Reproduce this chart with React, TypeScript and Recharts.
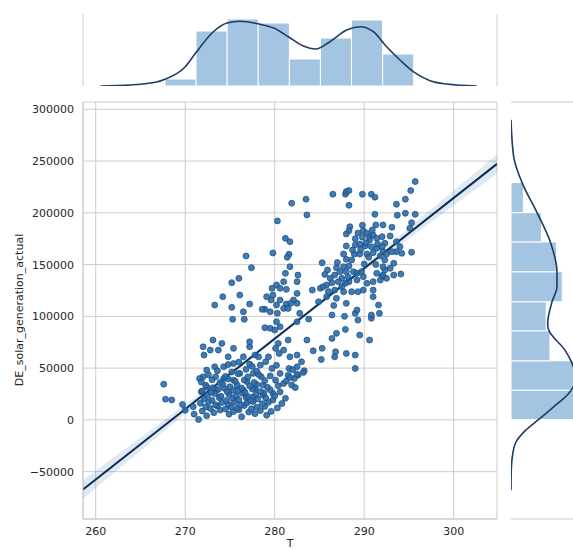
import React from 'react';
import { ComposedChart, Scatter, Line, Area, XAxis, YAxis, CartesianGrid, ReferenceArea } from 'recharts';

const xTicks = [260, 270, 280, 290, 300];
const yTicks = [-50000, 0, 50000, 100000, 150000, 200000, 250000, 300000];
const xDomain: [number, number] = [258.58, 304.84];
const yDomain: [number, number] = [-95740, 307060];

// scatter: [T, DE_solar_generation_actual]
const points: [number, number][] = [
  [295.7,230200],[295.2,221500],[294.6,213200],[293.6,208300],[286.5,218000],[287.9,218000],[288.0,220500],[288.3,221500],[289.8,218000],[290.8,218000],[291.2,215100],[288.3,207300],[281.9,209300],[283.5,213200],[283.6,198000],[280.3,192200],[291.2,198600],[293.7,197700],[294.6,199600],[295.7,198600],[295.3,190500],[295.1,185100],[293.1,186100],[292.1,188300],[291.3,188300],[289.8,188000],[288.4,186600],[288.3,182800],[288.0,179600],[289.9,182800],[290.3,180300],[290.6,177000],[291.0,178600],[291.4,175400],[292.0,177000],[292.9,177700],[292.3,170600],[292.0,167300],[291.4,165800],[290.8,167300],[290.1,168000],[289.5,169900],[289.0,169000],[288.0,168000],[290.6,173800],[293.6,172100],[294.0,167300],[293.6,162500],[293.1,162500],[294.2,160900],[295.3,161900],[292.1,162500],[292.5,160200],[291.0,161500],[290.3,160200],[289.5,160200],[288.9,160200],[287.7,160200],[288.0,155100],[288.6,154500],[288.3,148600],[287.7,148000],[292.3,154500],[293.3,151300],[292.9,146400],[292.3,144800],[292.1,148000],[291.4,141600],[292.0,138300],[292.5,136700],[293.3,139900],[294.1,140900],[291.0,133500],[291.8,135100],[292.1,139900],
  [276.8,158300],[279.8,161200],[281.2,175400],[281.7,172100],[281.6,160000],[281.4,157100],[281.7,148000],[277.4,147000],[285.3,151800],[285.9,144800],[286.9,147000],[286.7,139900],[287.3,143100],[287.5,136700],[287.1,133500],[286.2,136700],[286.4,132500],[285.8,130300],[285.1,127100],[288.0,143100],[288.8,143100],[289.2,141600],[289.7,143100],[289.9,138300],[289.2,135100],[288.3,133500],[287.9,131900],[287.5,128600],[286.7,125400],[286.9,117400],[288.0,112600],[287.7,123800],[288.6,123800],[289.3,123800],[289.9,125400],[290.3,131900],[291.0,125400],[291.0,119000],[291.6,110900],[291.7,102900],[290.8,98100],[290.8,101300],[289.3,96400],[289.0,102900],[289.2,106100],[286.4,101300],[289.5,81900],[290.6,77100],[287.9,87400],[286.9,83600],[286.4,78700],[286.8,65800],[288.0,64200],[289.0,62600],[289.0,49700],[286.7,60900],[285.3,69100],[284.3,66700],[285.2,58400],[283.6,77100],[283.8,97400],[282.5,94800],[282.8,102900],[282.5,112600],[282.1,115800],[282.5,122200],[282.5,133500],[282.6,139900],[281.2,141600],[281.0,133500],[280.2,130300],[279.7,127100],[280.6,127100],[281.3,126100],[279.8,120600],[279.6,115800],[280.6,115800],[280.2,110900],[281.3,111900],[281.0,107700],[278.9,106800],[279.5,104400],[280.3,102900],[281.5,107700],[281.8,112600],[284.9,114100],[284.2,125400],[285.4,128600],[285.8,119000],[279.1,119000],[278.6,106800],[276.5,104400],[277.2,111900],[276.1,120600],[275.2,132500],[276.0,136700],[274.2,119000],[273.3,110900],[275.2,108700],[275.3,97100],[276.6,97100],[278.9,89000],[279.5,88400],[280.2,94800],[280.6,89900],[280.0,86800],[281.5,77100],[280.4,73900],[280.1,69100],[281.0,67400],[280.5,64200],[279.3,60900],[281.7,60900],[282.5,62600],[283.0,56100],[282.5,51300],[281.6,49700],[281.5,43200],[282.6,43200],[281.9,33600],[280.6,44900],[279.7,49700],[280.1,38400],[281.0,35200],[279.8,25500],[278.7,33600],[278.5,41600],[277.6,44900],[277.2,53900],[277.2,70600],[277.2,75400],[277.8,62600],[278.2,60900],[278.4,52900],[276.5,60900],[275.4,69100],[274.1,73900],[273.1,77100],[273.7,67400],[272.8,67400],[272.0,70600],[272.1,62600],[274.8,60900],[275.4,54500],[274.3,51300],[273.3,51300],[272.4,48100],[273.4,41600],[274.3,40000],[275.4,38400],[276.1,44900],[276.9,36800],[276.5,28700],[275.4,28700],[274.4,30400],[273.5,28700],[272.4,31900],[272.0,41600],[277.8,30400],[277.6,22200],[278.7,23900],
  [267.6,34500],[267.8,20000],[268.5,19300],[269.7,14900],[270.0,9400],[270.9,12600],[271.5,400],[271.6,40000],[271.8,27100],[271.0,5500],
  [282.2,40000],[283.3,47500],
  [289.0,175000],[289.6,164500],[290.2,171000],[290.9,183500],[291.5,170000],[289.3,180500],[290.5,157000],[291.8,158500],[288.7,164000],[290.0,150500],[291.3,150000],[289.8,176500],
  [286.0,124000],[287.0,152000],[285.6,140500],[288.2,138000],[286.6,110500],[287.8,100000],
  [272.4,4000],[274.9,5500],[276.3,3000],[277.8,6000],[279.1,4500],
  [271.9,8500],[273.2,7000],[273.9,9500],[275.4,8000],[276.0,9800],[277.1,7500],[278.4,9000],[279.6,8200],
  [272.3,12500],[272.8,11000],[273.6,13500],[274.5,10500],[275.1,12800],[275.8,11200],[276.6,13800],[277.4,10800],[278.0,12200],[278.9,13000],[280.3,11500],
  [271.7,16000],[272.6,17500],[273.4,14500],[274.1,16800],[274.8,15200],[275.5,17200],[276.2,14800],[276.9,16500],[277.6,17800],[278.6,15500],[279.3,17000],[280.8,15800],
  [272.1,20500],[273.0,19000],[273.8,21500],[274.6,18800],[275.3,21000],[276.0,19500],[276.8,21800],[277.3,18500],[278.1,20200],[279.0,21200],[279.8,19200],[281.2,20800],
  [272.5,24000],[273.3,25500],[274.0,22800],[274.9,24800],[275.7,23200],[276.4,25800],[277.0,22500],[277.9,24500],[278.8,26000],[280.0,23000],
  [271.9,28000],[272.9,26800],[273.7,29500],[274.7,27200],[275.9,28500],[276.7,26500],[277.5,29800],[278.4,27500],[279.5,29000],[280.6,27000],
  [272.3,33500],[273.1,31000],[274.2,34500],[275.0,32000],[275.8,33800],[276.3,30800],[277.2,32800],[278.0,34200],[279.2,31500],[280.4,33000],[282.3,31200],
  [271.8,36500],[273.0,38800],[273.9,36000],[274.8,39500],[275.6,37200],[276.6,38500],[277.7,36200],[278.9,38000],[281.3,37500],
  [272.6,43500],[274.5,42000],[275.9,44500],[277.0,41500],[278.2,43800],[279.5,42500],[281.7,41000],[282.5,44200],
  [273.6,47500],[275.2,46200],[276.8,48800],[278.0,47000],[283.2,45800],[282.0,48500],
  [274.8,53500],[276.0,55800],[277.5,51500],[279.0,56200],[280.2,52800],
];

// regression line end points and confidence band
const regLineT = [258.58, 304.84];
const regLineV = [-67300, 247300];
const bandT = [258.58, 262, 266, 270, 274, 278, 282, 286, 290, 294, 298, 302, 304.84];
const bandLo = [-76300, -51640, -22840, 5860, 34460, 62760, 90360, 116960, 142960, 168660, 194360, 219960, 238100];
const bandHi = [-58300, -36440, -10840, 14860, 40660, 66760, 93560, 121360, 149760, 178460, 207160, 235960, 256500];

// top marginal (T)
const tempBinEdges = [267.74, 271.21, 274.69, 278.16, 281.64, 285.11, 288.58, 292.06, 295.53];
const tempBinCounts = [7, 55, 67, 63, 27, 48, 66, 32];
const tempKdeT = [260.56, 263.83, 266.82, 267.74, 269.98, 271.17, 273.11, 274.67, 276.12, 278.25, 279.96, 281.52, 283.2, 284.58, 286.18, 288.04, 289.64, 291.02, 292.51, 294.0, 295.48, 297.35, 299.22, 302.57];
const tempKdeD = [0, 1, 4, 6.7, 19, 33, 54, 63, 64.7, 62, 57.7, 49.3, 40, 37, 44.3, 56, 59.3, 54.3, 39.3, 26, 14.3, 5.3, 2, 0];

// right marginal (DE_solar_generation_actual)
const solarBinEdges = [400, 28700, 57100, 86100, 114100, 143100, 171900, 200200, 229200];
const solarBinCounts = [68, 72, 41, 37, 54, 48, 32, 13];
const solarKdeV = [-67990, -48400, -35800, -22800, -9960, 400, 12600, 25500, 40300, 54800, 67400, 86800, 93200, 114100, 128600, 143100, 171900, 200200, 229200, 254400, 289800];
const solarKdeD = [0, 0.3, 1.4, 4.5, 15.5, 29.2, 44.9, 60.7, 68.4, 64.2, 56.8, 39.7, 38.6, 43.2, 48.4, 48.4, 41.4, 27.4, 11.6, 2.8, 0];

const GRID = '#cccccc';
const HIST = '#1a6db3';
const KDE = '#1b3c66';
const FONT = 'DejaVu Sans';
const tickStyle = { fontFamily: FONT, fontSize: 11, fill: '#262626' };

const scatterData = points.map(([T, v]) => ({ T, v }));
const regData = regLineT.map((T, i) => ({ T, v: regLineV[i] }));
const bandData = bandT.map((T, i) => ({ T, range: [bandLo[i], bandHi[i]] }));
const tempKdeData = tempKdeT.map((T, i) => ({ T, d: tempKdeD[i] }));
const solarKdeData = solarKdeV.map((v, i) => ({ v, d: solarKdeD[i] }));

const fmtY = (v: number) => (v < 0 ? '\u2212' + Math.abs(v) : String(v));

const Dot = (props: any) => (
  <circle cx={props.cx} cy={props.cy} r={3} fill="#2b6dab" fillOpacity={0.9} stroke="#1a4a7c" strokeWidth={0.7} />
);

export default function App() {
  return (
    <div style={{ position: 'absolute', left: 0, top: 0, width: 573, height: 550, overflow: 'hidden', background: '#ffffff' }}>
      {/* main joint plot */}
      <div style={{ position: 'absolute', left: 0, top: 0 }}>
        <ComposedChart width={573} height={550} margin={{ top: 102, right: 76, bottom: 0, left: 0 }}>
          <CartesianGrid stroke={GRID} strokeWidth={1} />
          <XAxis
            type="number"
            dataKey="T"
            domain={xDomain}
            ticks={xTicks}
            allowDataOverflow
            tickLine={false}
            tickSize={0}
            tickMargin={8}
            height={31}
            axisLine={{ stroke: GRID }}
            tick={tickStyle}
          />
          <YAxis
            type="number"
            dataKey="v"
            domain={yDomain}
            ticks={yTicks}
            allowDataOverflow
            tickLine={false}
            tickSize={0}
            tickMargin={9}
            width={83}
            axisLine={{ stroke: GRID }}
            tick={tickStyle}
            tickFormatter={fmtY}
          />
          <Area data={bandData} dataKey="range" type="monotone" fill="#2b6dab" fillOpacity={0.15} stroke="none" isAnimationActive={false} />
          <Scatter data={scatterData} dataKey="v" shape={Dot} isAnimationActive={false} />
          <Line data={regData} dataKey="v" type="linear" stroke="#0c2b55" strokeWidth={2} dot={false} isAnimationActive={false} />
        </ComposedChart>
      </div>

      {/* top marginal */}
      <div style={{ position: 'absolute', left: 0, top: 0 }}>
        <ComposedChart width={573} height={86} margin={{ top: 14, right: 76, bottom: 0, left: 83 }}>
          <CartesianGrid stroke={GRID} horizontal={false} />
          <XAxis
            type="number"
            dataKey="T"
            domain={xDomain}
            ticks={xTicks}
            allowDataOverflow
            tick={false}
            tickLine={false}
            height={0}
            axisLine={{ stroke: GRID }}
          />
          <YAxis type="number" domain={[0, 72]} hide allowDataOverflow />
          {tempBinCounts.map((c, i) => (
            <ReferenceArea
              key={'t' + i}
              x1={tempBinEdges[i]}
              x2={tempBinEdges[i + 1]}
              y1={0}
              y2={c}
              fill={HIST}
              fillOpacity={0.4}
              stroke="#ffffff"
              strokeWidth={1}
            />
          ))}
          <Line data={tempKdeData} dataKey="d" type="monotone" stroke={KDE} strokeWidth={1.6} dot={false} isAnimationActive={false} />
        </ComposedChart>
      </div>

      {/* right marginal */}
      <div style={{ position: 'absolute', left: 500, top: 0 }}>
        <ComposedChart layout="vertical" width={83} height={550} margin={{ top: 102, right: 0, bottom: 31, left: 11 }}>
          <CartesianGrid stroke={GRID} vertical={false} />
          <XAxis type="number" domain={[0, 75.8]} hide allowDataOverflow />
          <YAxis
            type="number"
            dataKey="v"
            domain={yDomain}
            ticks={yTicks}
            allowDataOverflow
            reversed
            tick={false}
            tickLine={false}
            width={0}
            axisLine={{ stroke: GRID }}
          />
          {solarBinCounts.map((c, i) => (
            <ReferenceArea
              key={'s' + i}
              x1={0}
              x2={c}
              y1={solarBinEdges[i]}
              y2={solarBinEdges[i + 1]}
              fill={HIST}
              fillOpacity={0.4}
              stroke="#ffffff"
              strokeWidth={1}
            />
          ))}
          <Line data={solarKdeData} dataKey="d" type="monotone" stroke={KDE} strokeWidth={1.6} dot={false} isAnimationActive={false} />
        </ComposedChart>
      </div>

      {/* axis labels */}
      <div
        style={{
          position: 'absolute',
          left: 19,
          top: 310,
          transform: 'translate(-50%, -50%) rotate(-90deg)',
          whiteSpace: 'nowrap',
          fontFamily: FONT,
          fontSize: 11,
          color: '#262626',
          lineHeight: '13px',
        }}
      >
        DE_solar_generation_actual
      </div>
      <div
        style={{
          position: 'absolute',
          left: 290,
          top: 537,
          transform: 'translateX(-50%)',
          fontFamily: FONT,
          fontSize: 11,
          color: '#262626',
          lineHeight: '13px',
        }}
      >
        T
      </div>
    </div>
  );
}
